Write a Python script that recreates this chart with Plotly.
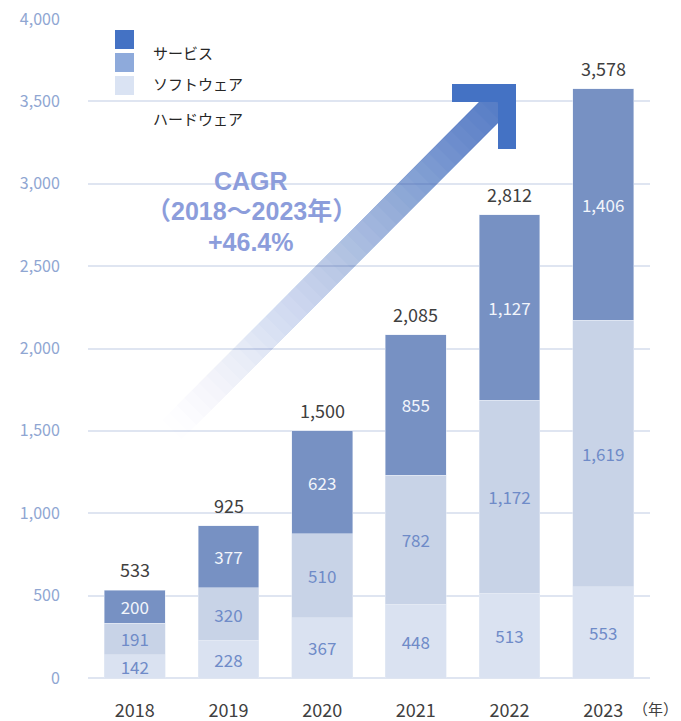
import plotly.graph_objects as go

years = ["2018", "2019", "2020", "2021", "2022", "2023"]
hardware = [142, 228, 367, 448, 513, 553]
software = [191, 320, 510, 782, 1172, 1619]
services = [200, 377, 623, 855, 1127, 1406]
totals = [533, 925, 1500, 2085, 2812, 3578]
legend_labels = ["サービス", "ソフトウェア", "ハードウェア"]
cagr_lines = ["CAGR", "（2018～2023年）", "+46.4%"]

W, H = 681, 721
L, R, T, B = 88, 31, 19, 43
PW, PH = W - L - R, H - T - B
FONT = "Noto Sans CJK JP"
CAGR_FONT = "Liberation Sans, Noto Sans CJK JP"

def px(x):
    return (x - L) / PW

def py(y):
    return (H - B - y) / PH

xpos = list(range(len(years)))

def seg(vals, name, color, tcolor):
    return go.Bar(x=xpos, y=vals, name=name, marker_color=color,
                  text=[f"{v:,}" for v in vals], textposition="inside",
                  insidetextanchor="middle", width=0.65, constraintext="none",
                  textfont=dict(color=tcolor, size=17, family=FONT))

fig = go.Figure()
fig.add_trace(seg(hardware, legend_labels[2], "#dae2f1", "#6f8bc8"))
fig.add_trace(seg(software, legend_labels[1], "#c8d3e7", "#6f8bc8"))
fig.add_trace(seg(services, legend_labels[0], "#7791c3", "#f2f5fb"))

annotations = []
for i, tot in zip(xpos, totals):
    annotations.append(dict(x=i, y=tot, xref="x", yref="y", text=f"{tot:,}", showarrow=False,
                            xanchor="center", yanchor="bottom", yshift=6,
                            font=dict(size=18, color="#404040", family=FONT)))

# (年) unit label
annotations.append(dict(xref="paper", yref="paper", x=px(680), y=py(708), text="（年）",
                        showarrow=False, xanchor="right", yanchor="middle",
                        font=dict(size=15, color="#404040", family=FONT)))

# CAGR text, one annotation per line
for s, yy in zip(cagr_lines, [181, 211, 242]):
    annotations.append(dict(xref="paper", yref="paper", x=px(251), y=py(yy),
                            text=f"<b>{s}</b>", showarrow=False, xanchor="center",
                            yanchor="middle",
                            font=dict(size=25, color="#8c9ddb", family=CAGR_FONT)))

shapes = []
# legend (swatches and labels as in the reference)
sw_colors = ["#4472c4", "#8eaadb", "#dae3f3"]
sw_tops = [30, 53, 76]
for c, t in zip(sw_colors, sw_tops):
    shapes.append(dict(type="rect", xref="paper", yref="paper", x0=px(115), x1=px(134),
                       y0=py(t + 19), y1=py(t), fillcolor=c, line=dict(width=0)))
lab_y = [52, 83, 118]
for lab, yy in zip(legend_labels, lab_y):
    annotations.append(dict(xref="paper", yref="paper", x=px(151), y=py(yy), text=lab,
                            xanchor="left", yanchor="middle", showarrow=False,
                            font=dict(size=15, color="#262626", family=FONT)))

# gradient arrow shaft (nested layers so the overlap builds up the alpha)
tx, ty = 172.0, 430.0
hx, hy = 505.0, 96.0
dx, dy = hx - tx, hy - ty
ln = (dx * dx + dy * dy) ** 0.5
nx, ny = -dy / ln, dx / ln
hw = 14.0
N = 45
prev = 0.0
for i in range(N):
    t0 = i / N
    A = 0.9 * ((i + 1) / N) ** 1.35
    a = 1 - (1 - A) / (1 - prev)
    prev = A
    x0, y0 = tx + dx * t0, ty + dy * t0
    pts = [(x0 + nx * hw, y0 + ny * hw), (hx + nx * hw, hy + ny * hw),
           (hx - nx * hw, hy - ny * hw), (x0 - nx * hw, y0 - ny * hw)]
    path = "M " + " L ".join(f"{px(p[0]):.5f},{py(p[1]):.5f}" for p in pts) + " Z"
    shapes.append(dict(type="path", xref="paper", yref="paper", path=path,
                       fillcolor="#4472c4", opacity=round(a, 4), line=dict(width=0)))
# arrow head (chevron)
shapes.append(dict(type="rect", xref="paper", yref="paper", x0=px(452), x1=px(516),
                   y0=py(102), y1=py(84), fillcolor="#4472c4", line=dict(width=0)))
shapes.append(dict(type="rect", xref="paper", yref="paper", x0=px(498), x1=px(516),
                   y0=py(149), y1=py(84), fillcolor="#4472c4", line=dict(width=0)))

fig.update_layout(
    barmode="stack", width=W, height=H,
    margin=dict(l=L, r=R, t=T, b=B, pad=0, autoexpand=False),
    paper_bgcolor="white", plot_bgcolor="white", showlegend=False,
    font=dict(family=FONT),
    annotations=annotations, shapes=shapes,
)
fig.update_xaxes(range=[-0.5, 5.5], tickvals=xpos, ticktext=years,
                 showgrid=False, showline=False, zeroline=False, ticks="outside",
                 ticklen=16, tickcolor="rgba(0,0,0,0)", automargin=False,
                 tickfont=dict(size=18, color="#404040", family=FONT))
fig.update_yaxes(range=[0, 4000], tickvals=[0, 500, 1000, 1500, 2000, 2500, 3000, 3500, 4000],
                 tickformat=",", showline=False,
                 gridcolor="#dfe5f1", gridwidth=2, zeroline=True, zerolinecolor="#dfe5f1",
                 zerolinewidth=2, tickfont=dict(size=16, color="#8fa6d2", family=FONT),
                 ticks="outside", ticklen=24, tickcolor="rgba(0,0,0,0)", automargin=False)

fig.write_html("out.html", config={"displayModeBar": False},
               post_script="document.body.style.margin='0';")
